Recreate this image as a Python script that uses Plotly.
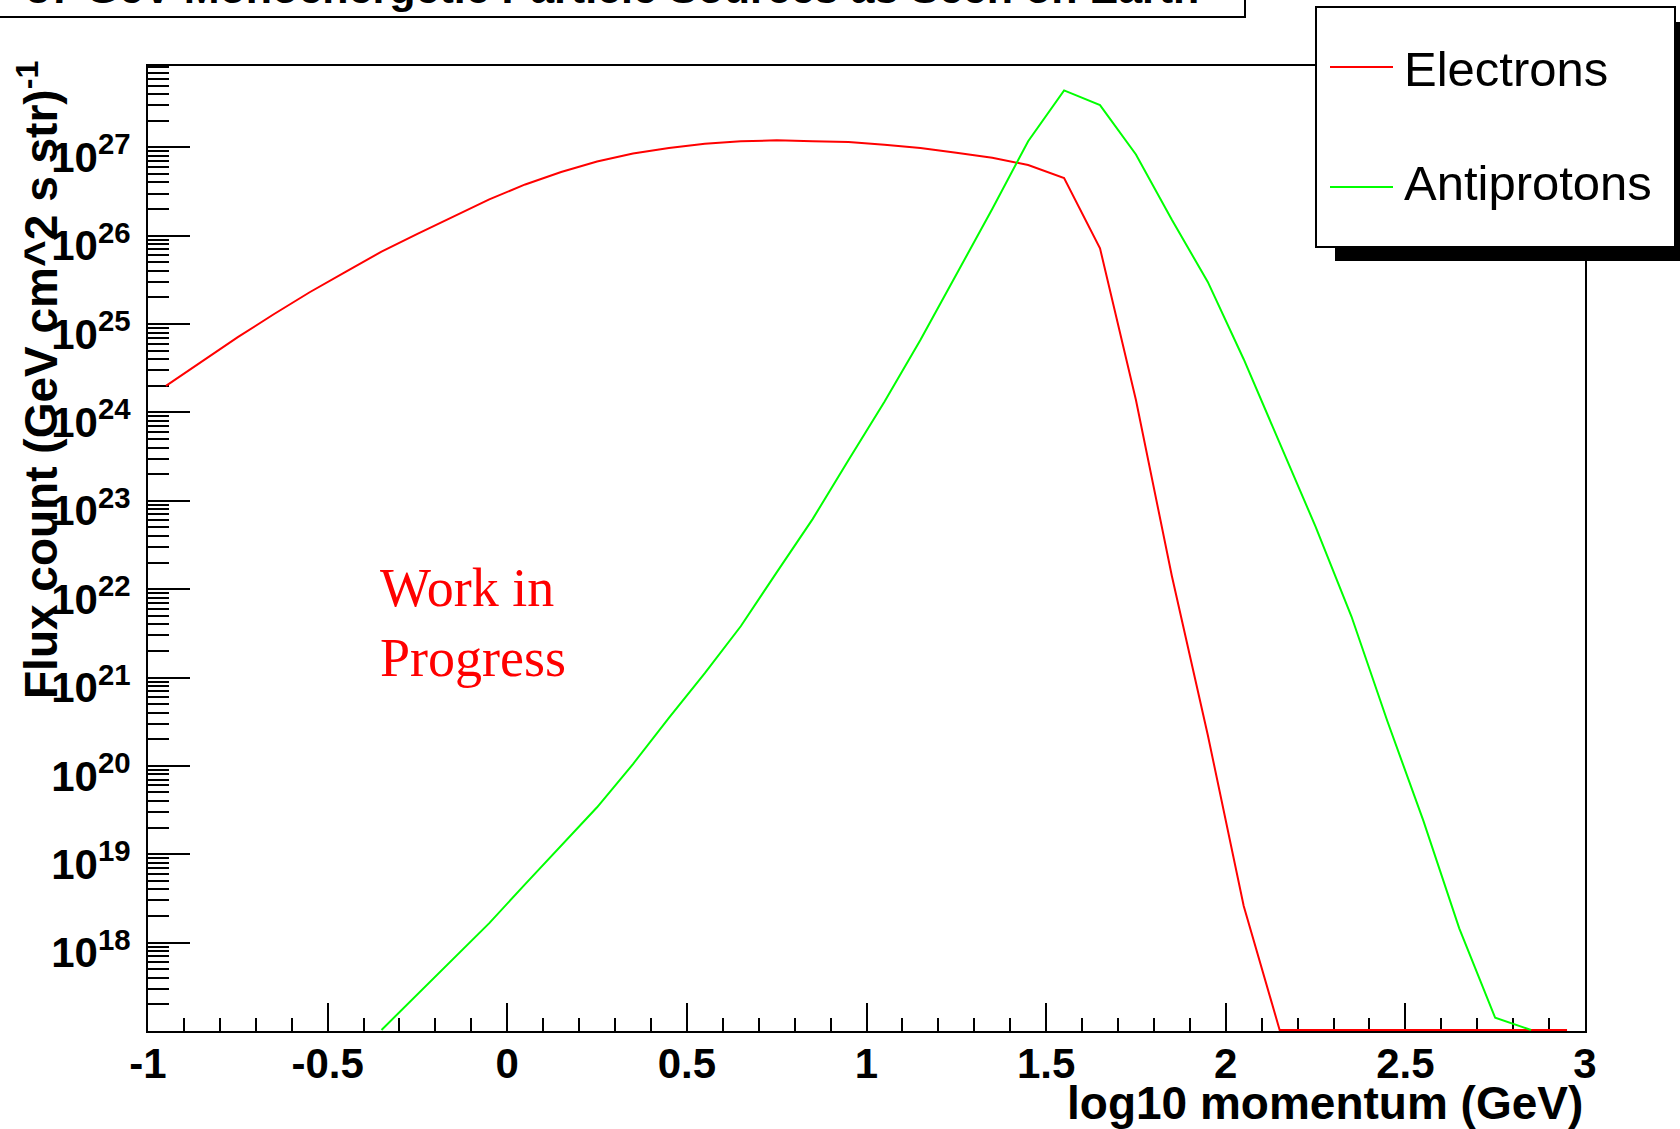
import plotly.graph_objects as go

# Bin centres of log10(momentum / GeV)
electron_x = [round(-0.95 + 0.1 * i, 2) for i in range(40)]
antiproton_x = [round(-0.35 + 0.1 * i, 2) for i in range(33)]

# Flux per bin, (GeV cm^2 s str)^-1 ; 0 marks an empty bin
electron_flux = [
    2.0e24, 3.8e24, 7.1e24, 1.29e25, 2.29e25, 3.89e25, 6.6e25, 1.05e26,
    1.66e26, 2.57e26, 3.8e26, 5.25e26, 6.9e26, 8.5e26, 9.8e26, 1.10e27,
    1.17e27, 1.20e27, 1.17e27, 1.15e27, 1.07e27, 9.8e26, 8.7e26, 7.6e26,
    6.3e26, 4.5e26, 7.2e25, 1.38e24, 1.41e22, 2.24e20, 2.6e18,
    0, 0, 0, 0, 0, 0, 0, 0, 0,
]
antiproton_flux = [
    0, 2.6e17, 6.5e17, 1.66e18, 4.6e18, 1.26e19, 3.4e19, 1.05e20,
    3.5e20, 1.12e21, 3.8e21, 1.55e22, 6.2e22, 2.9e23, 1.32e24, 6.6e24,
    3.6e25, 2.0e26, 1.17e27, 4.4e27, 3.0e27, 8.3e26, 1.51e26, 3.0e25,
    4.0e24, 4.6e23, 5.1e22, 4.9e21, 3.2e20, 2.4e19, 1.45e18, 1.41e17,
    0,
]

series_names = ["Electrons", "Antiprotons"]
series_colors = ["#ff0000", "#00ff00"]

x_tick_vals = [-1, -0.5, 0, 0.5, 1, 1.5, 2, 2.5, 3]
x_tick_text = ["-1", "-0.5", "0", "0.5", "1", "1.5", "2", "2.5", "3"]
y_decades = list(range(18, 28))

title_text = "37 GeV Monoenergetic Particle Sources as Seen on Earth"
x_title = "log10 momentum (GeV)"
y_title = "Flux count (GeV cm^2 s str)<sup>-1</sup>"

# ---- canvas geometry ----
W, H = 1680, 1129
L, R, T, B = 148, 1585, 66, 1031
Y_LOG_MIN, Y_LOG_MAX = 17.0, 27.92
# empty bins are drawn resting on the lower frame
Y_FLOOR = 10.0 ** (Y_LOG_MIN + 0.012)


def px_x(px):
    return (px - L) / (R - L)


def px_y(py):
    return (B - py) / (B - T)


def floored(vals):
    return [float(v) if v > 0 else Y_FLOOR for v in vals]


fig = go.Figure()
for xs, ys, name, col in zip(
    [electron_x, antiproton_x],
    [electron_flux, antiproton_flux],
    series_names,
    series_colors,
):
    fig.add_trace(
        go.Scatter(
            x=xs, y=floored(ys), name=name, mode="lines",
            line=dict(color=col, width=2), showlegend=False,
        )
    )

x_minor = [round(-1 + 0.1 * i, 2) for i in range(41)]
x_minor = [v for v in x_minor if abs(v * 2 - round(v * 2)) > 1e-6]
y_minor = []
for n in range(17, 28):
    for k in range(2, 10):
        v = k * 10.0 ** n
        if v < 10.0 ** Y_LOG_MAX:
            y_minor.append(v)

fig.update_xaxes(
    range=[-1, 3], showgrid=False, zeroline=False,
    showline=True, linecolor="black", linewidth=2, mirror=True,
    layer="below traces",
    tickmode="array", tickvals=x_tick_vals, ticktext=x_tick_text,
    ticks="inside", ticklen=28, tickwidth=2, tickcolor="black",
    tickfont=dict(family="Liberation Sans", size=42, color="black", weight="bold"),
    ticklabelstandoff=-5,
    minor=dict(tickmode="array", tickvals=x_minor, ticks="inside",
               ticklen=13, tickwidth=1.5, tickcolor="black", showgrid=False),
)
fig.update_yaxes(
    type="log", range=[Y_LOG_MIN, Y_LOG_MAX], showgrid=False, zeroline=False,
    showline=True, linecolor="black", linewidth=2, mirror=True,
    layer="below traces",
    tickmode="array",
    tickvals=[10.0 ** d for d in y_decades],
    ticktext=[f"<b>10<sup>{d}</sup></b>" for d in y_decades],
    ticks="inside", ticklen=42, tickwidth=2, tickcolor="black",
    tickfont=dict(family="Liberation Sans", size=42, color="black"),
    ticklabelstandoff=7, ticklabelshift=10,
    minor=dict(tickmode="array", tickvals=y_minor, ticks="inside",
               ticklen=21, tickwidth=1.5, tickcolor="black", showgrid=False),
)

shapes = [
    # title box
    dict(type="rect", xref="paper", yref="paper",
         x0=px_x(-5), x1=px_x(1245), y0=px_y(17), y1=px_y(-10),
         line=dict(color="black", width=2), fillcolor="white"),
    # legend shadow and box
    dict(type="rect", xref="paper", yref="paper",
         x0=px_x(1335), x1=px_x(1700), y0=px_y(261), y1=px_y(22),
         line=dict(width=0), fillcolor="black"),
    dict(type="rect", xref="paper", yref="paper",
         x0=px_x(1316), x1=px_x(1675), y0=px_y(247), y1=px_y(7),
         line=dict(color="black", width=2), fillcolor="white"),
]
legend_rows = [67, 187]
for row, col in zip(legend_rows, series_colors):
    shapes.append(dict(type="line", xref="paper", yref="paper",
                       x0=px_x(1330), x1=px_x(1393), y0=px_y(row), y1=px_y(row),
                       line=dict(color=col, width=2)))

annotations = [
    dict(text=f"<b>{title_text}</b>", x=px_x(612), y=px_y(14),
         xanchor="center", yanchor="bottom",
         font=dict(family="Liberation Sans", size=43, color="black")),
    dict(text=f"<b>{x_title}</b>", x=px_x(1585), y=px_y(1103),
         xanchor="right", yanchor="middle",
         font=dict(family="Liberation Sans", size=46, color="black")),
    dict(text=f"<b>{y_title}</b>", x=px_x(38), y=px_y(380), textangle=-90,
         xanchor="center", yanchor="middle",
         font=dict(family="Liberation Sans", size=46, color="black")),
    dict(text="Work in", x=px_x(378), y=px_y(588), xanchor="left", yanchor="middle",
         font=dict(family="Liberation Serif", size=54, color="#ff0000")),
    dict(text="Progress", x=px_x(378), y=px_y(658), xanchor="left", yanchor="middle",
         font=dict(family="Liberation Serif", size=54, color="#ff0000")),
]
legend_text_rows = [69, 183]
for row, name in zip(legend_text_rows, series_names):
    annotations.append(dict(text=name, x=px_x(1402), y=px_y(row),
                            xanchor="left", yanchor="middle",
                            font=dict(family="Liberation Sans", size=49, color="black")))
for a in annotations:
    a.update(xref="paper", yref="paper", showarrow=False)

fig.update_layout(
    width=W, height=H,
    margin=dict(l=L, r=W - R, t=T, b=H - B),
    paper_bgcolor="white", plot_bgcolor="white",
    shapes=shapes, annotations=annotations,
    showlegend=False,
)

fig.write_html("out.html")
